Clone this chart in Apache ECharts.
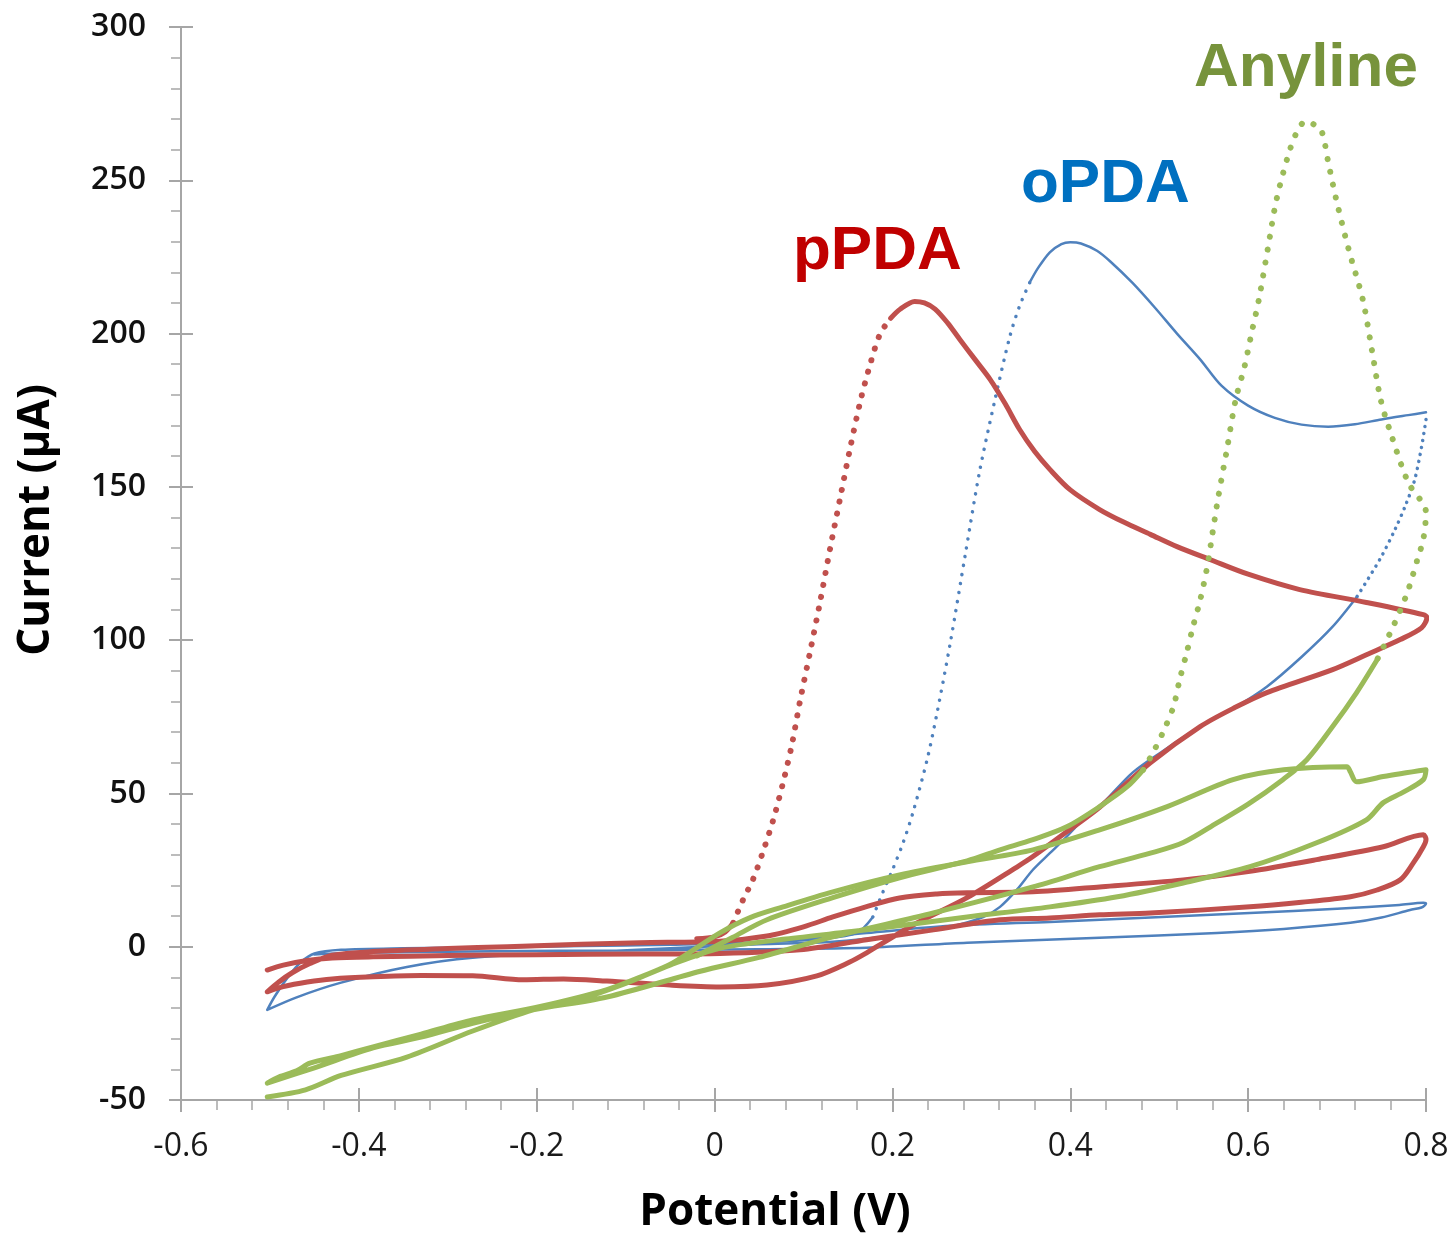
<!DOCTYPE html>
<html>
<head>
<meta charset="utf-8">
<script src="https://cdn.jsdelivr.net/npm/echarts@6/dist/echarts.min.js"></script>
<style>
  html, body { margin: 0; padding: 0; background: #fff; }
  #chart { width: 1455px; height: 1235px; }
</style>
</head>
<body>
<div id="chart"></div>
<script>
  // axis ticks
  const potentialTicks = { min: -0.6, max: 0.8, step: 0.2 }
  const currentTicks = { min: -50, max: 300, step: 50 }

  // pPDA, [potential V, current uA]
  const pPDA_start = [[-0.02, 2.6], [0, 3.2], [0.012, 4.8], [0.021, 7.8]]
  const pPDA_rise = [[0.021, 7.8], [0.032, 15.3], [0.043, 21.8], [0.054, 30.6], [0.066, 41.4], [0.077, 53.5],
    [0.087, 66], [0.096, 80], [0.108, 97], [0.119, 113], [0.13, 130], [0.141, 146], [0.152, 162],
    [0.164, 178], [0.175, 190], [0.186, 199.8], [0.198, 205]]
  const pPDA_rest = [[0.198, 205], [0.209, 208], [0.225, 210.5], [0.236, 210], [0.248, 208], [0.262, 203.5],
    [0.276, 198], [0.293, 191.5], [0.31, 185], [0.327, 177], [0.343, 168.7], [0.36, 161.5], [0.377, 155.7],
    [0.4, 149], [0.433, 142.6], [0.46, 138.5], [0.49, 134.5], [0.52, 130.5], [0.557, 126.3], [0.6, 121.5],
    [0.658, 116.5], [0.733, 112.3], [0.797, 108.3], [0.801, 107.4],
    [0.795, 104], [0.771, 100.2], [0.735, 95.5], [0.695, 90.4], [0.621, 82.9], [0.585, 78], [0.546, 71.8],
    [0.49, 60], [0.433, 45.5], [0.396, 37.5], [0.358, 29.4], [0.34, 26], [0.284, 16], [0.228, 7.8],
    [0.189, 1.2], [0.171, -2], [0.152, -5], [0.115, -9.5], [0.059, -12.5], [0.006, -13.1], [-0.05, -12.5],
    [-0.121, -11.2], [-0.17, -10.5], [-0.215, -10.8], [-0.272, -9.5], [-0.33, -9.4], [-0.384, -9.8],
    [-0.43, -10.5], [-0.458, -11.5], [-0.485, -13], [-0.503, -14.7],
    [-0.49, -11.5], [-0.475, -8.5], [-0.455, -5.5], [-0.43, -2.8], [-0.384, -1.6], [-0.3, -0.6],
    [-0.233, 0], [-0.15, 0.8], [-0.084, 1.3], [0.006, 1.8], [0.059, 3.5], [0.1, 6.5], [0.133, 9.7],
    [0.17, 13], [0.208, 15.9], [0.25, 17.2], [0.284, 17.6], [0.358, 17.9], [0.433, 19.5], [0.527, 21.8],
    [0.6, 24.5], [0.677, 28.4], [0.752, 32.6], [0.797, 36.5],
    [0.8, 35], [0.797, 32.6], [0.785, 27], [0.771, 21.8], [0.745, 18.5], [0.715, 16.3], [0.66, 14.5],
    [0.602, 13], [0.49, 11], [0.433, 10.4], [0.377, 9.4], [0.321, 8.8], [0.246, 5.5], [0.171, 2.3],
    [0.096, -1], [0.006, -2.2], [-0.084, -2.4], [-0.2, -2.6], [-0.3, -2.9], [-0.384, -3.3], [-0.43, -3.7],
    [-0.458, -4.5], [-0.485, -6], [-0.503, -7.6]]

  // oPDA
  const oPDA_start = [[0, 0.8], [0.06, 1.5], [0.12, 2.5], [0.16, 4.5], [0.178, 9.7]]
  const oPDA_rise = [[0.178, 9.7], [0.189, 17.6], [0.2, 25], [0.212, 33.9], [0.223, 43.7], [0.239, 61],
    [0.25, 76], [0.265, 99], [0.282, 128], [0.298, 155], [0.315, 178], [0.332, 199], [0.343, 209], [0.355, 217]]
  const oPDA_peak = [[0.355, 217], [0.364, 221.5], [0.377, 226.5], [0.39, 229.2], [0.4, 229.8], [0.412, 229.4],
    [0.43, 227], [0.445, 223.5], [0.47, 216.5], [0.495, 208.5], [0.52, 200], [0.546, 191.6], [0.57, 183],
    [0.6, 176.5], [0.63, 172.5], [0.66, 170.3], [0.69, 169.6], [0.72, 170.4], [0.75, 172], [0.78, 173.4],
    [0.8, 174.3]]
  const oPDA_drop = [[0.8, 172], [0.795, 163], [0.787, 152], [0.777, 144], [0.765, 136], [0.748, 126.3],
    [0.722, 114]]
  const oPDA_rest = [[0.722, 114], [0.695, 104.4], [0.66, 94.5], [0.621, 84.8], [0.585, 78], [0.546, 71.8],
    [0.505, 64], [0.47, 56.8], [0.433, 45.7], [0.414, 41.4], [0.396, 35.9], [0.377, 30.5], [0.358, 25.1],
    [0.34, 18.6], [0.321, 13], [0.302, 9.7], [0.265, 6.5], [0.208, 3.9], [0.133, 1.6], [0.05, 0.8],
    [-0.05, -0.5], [-0.159, -2], [-0.272, -3.6], [-0.346, -6.6], [-0.421, -11.8], [-0.47, -16.5], [-0.503, -20.6],
    [-0.495, -16.4], [-0.48, -10], [-0.465, -5], [-0.45, -2.2], [-0.42, -1], [-0.35, -0.5], [-0.25, -0.2],
    [-0.15, 0.2], [-0.05, 0.6], [0.05, 1.5], [0.171, 4.5], [0.265, 6.8], [0.377, 8.1], [0.49, 9.5],
    [0.602, 11], [0.7, 12.4], [0.77, 13.6], [0.797, 14.3],
    [0.8, 14], [0.795, 12.8], [0.782, 12], [0.75, 9.5], [0.715, 7.8], [0.64, 5.8], [0.565, 4.5], [0.433, 2.9],
    [0.284, 1.3], [0.171, -0.3], [0.05, -0.8], [-0.1, -1.2], [-0.25, -1.5], [-0.4, -2], [-0.45, -2.5]]

  // Anyline
  const anyline_start = [[-0.02, -3], [0.02, 3], [0.059, 8.8], [0.133, 16], [0.208, 22.5], [0.284, 28],
    [0.321, 31.6], [0.358, 34.9], [0.396, 39.1], [0.433, 45.7], [0.464, 52.2], [0.482, 57.7]]
  const anyline_peak = [[0.482, 57.7], [0.493, 63.3], [0.504, 69.8], [0.516, 78.3], [0.523, 87.1], [0.531, 96],
    [0.538, 104.4], [0.546, 113], [0.554, 124], [0.56, 135], [0.566, 146], [0.576, 162], [0.586, 178.5],
    [0.596, 189.3], [0.604, 200.4], [0.612, 211], [0.622, 227.5], [0.632, 243.8], [0.647, 260], [0.657, 267],
    [0.665, 269.3], [0.675, 268], [0.683, 265.7], [0.69, 256], [0.699, 243.8], [0.713, 227.5], [0.729, 211],
    [0.739, 194.9], [0.749, 178.5], [0.76, 167.8], [0.78, 151.4], [0.8, 141.6], [0.797, 133], [0.79, 126],
    [0.779, 115.5], [0.763, 104.4], [0.745, 93.6]]
  const anyline_rest = [[0.745, 93.6], [0.722, 82.9], [0.695, 71.8], [0.666, 61], [0.639, 54.5], [0.6, 46.5],
    [0.565, 40.4], [0.527, 34], [0.49, 30.5], [0.433, 26.1], [0.358, 19.5], [0.246, 11], [0.133, 3.2],
    [0.05, -3.5], [-0.016, -8], [-0.121, -16.4], [-0.204, -20.6], [-0.272, -25], [-0.33, -29.5],
    [-0.384, -33], [-0.45, -39.5], [-0.503, -44.5],
    [-0.49, -42.5], [-0.47, -40.5], [-0.455, -38], [-0.42, -35.5], [-0.384, -32.7], [-0.33, -28.5],
    [-0.272, -23.9], [-0.196, -19.5], [-0.121, -14], [-0.08, -9.5], [-0.047, -5.3], [0.006, 4.5], [0.04, 9.5],
    [0.077, 13], [0.133, 17.9], [0.208, 23.4], [0.284, 27.7], [0.358, 31.6], [0.433, 38.1], [0.509, 45.7],
    [0.583, 54.5], [0.64, 57.7], [0.711, 58.7], [0.715, 57], [0.722, 53.8], [0.752, 55.5], [0.8, 57.7],
    [0.797, 54.5], [0.775, 50.5], [0.752, 47], [0.733, 41.4], [0.677, 33.9], [0.602, 26.1], [0.527, 20.8],
    [0.453, 16.3], [0.377, 13], [0.284, 9.7], [0.171, 5.5], [0.08, 2.5], [0.006, -0.5], [-0.05, -6],
    [-0.1, -12], [-0.15, -17], [-0.204, -20.6], [-0.272, -27.5], [-0.346, -36], [-0.42, -42],
    [-0.46, -46.7], [-0.503, -49]]

  const RED = '#C0504D'
  const BLUE = '#4F81BD'
  const GREEN = '#9BBB59'
  const AXIS = '#A6A6A6'

  function trace (data, color, width, dotted, gap) {
    return {
      type: 'line',
      data: data,
      showSymbol: false,
      symbol: 'none',
      silent: true,
      animation: false,
      smooth: 0.3,
      lineStyle: {
        color: color,
        width: width,
        type: dotted ? [0.1, gap] : 'solid',
        cap: 'round',
        join: 'round'
      }
    }
  }

  function valueAxis (ticks, labels, inner) {
    let axis = {
      type: 'value',
      min: ticks.min,
      max: ticks.max,
      interval: ticks.step,
      axisLine: { show: !inner, onZero: false, lineStyle: { color: AXIS, width: 2 } },
      axisTick: { show: true, inside: inner, length: 12, lineStyle: { color: AXIS, width: 2 } },
      splitLine: { show: false },
      axisLabel: inner ? { show: false } : labels
    }
    if (!inner) {
      axis.minorTick = { show: true, splitNumber: 5, length: 10, lineStyle: { color: AXIS, width: 1.5 } }
    }
    return axis
  }

  let chart = echarts.init(document.getElementById('chart'))

  let xLabels = { fontSize: 32, fontFamily: 'Open Sans', color: '#1a1a1a', margin: 31 }
  let yLabels = { fontSize: 32, fontFamily: 'Open Sans', fontWeight: 600, color: '#111', margin: 35 }

  let xMain = valueAxis(potentialTicks, xLabels, false)
  xMain.position = 'bottom'
  let xInner = valueAxis(potentialTicks, null, true)
  xInner.position = 'bottom'
  let yMain = valueAxis(currentTicks, yLabels, false)
  yMain.position = 'left'
  let yInner = valueAxis(currentTicks, null, true)
  yInner.position = 'left'

  let option = {
    animation: false,
    backgroundColor: '#fff',
    grid: { left: 181, right: 29, top: 27, bottom: 135 },
    xAxis: [xMain, xInner],
    yAxis: [yMain, yInner],
    series: [
      trace(oPDA_start, BLUE, 2.5, false),
      trace(oPDA_rise, BLUE, 3.5, true, 9),
      trace(oPDA_peak, BLUE, 2.5, false),
      trace(oPDA_drop, BLUE, 3.5, true, 7),
      trace(oPDA_rest, BLUE, 2.5, false),
      trace(pPDA_start, RED, 5, false),
      trace(pPDA_rise, RED, 6, true, 12),
      trace(pPDA_rest, RED, 5, false),
      trace(anyline_start, GREEN, 5, false),
      trace(anyline_peak, GREEN, 6, true, 13),
      trace(anyline_rest, GREEN, 5, false)
    ],
    graphic: [
      {
        type: 'text', x: 793, y: 252, silent: true,
        style: { text: 'pPDA', fill: '#C00000', font: 'bold 62px "Liberation Sans"', textAlign: 'left', textVerticalAlign: 'middle' }
      },
      {
        type: 'text', x: 1021, y: 185, silent: true,
        style: { text: 'oPDA', fill: '#0070C0', font: 'bold 62px "Liberation Sans"', textAlign: 'left', textVerticalAlign: 'middle' }
      },
      {
        type: 'text', x: 1194, y: 69, silent: true,
        style: { text: 'Anyline', fill: '#77933C', font: 'bold 62px "Liberation Sans"', textAlign: 'left', textVerticalAlign: 'middle' }
      },
      {
        type: 'text', x: 775, y: 1212, silent: true,
        style: { text: 'Potential (V)', fill: '#000', font: 'bold 44px "Open Sans"', textAlign: 'center', textVerticalAlign: 'middle' }
      },
      {
        type: 'text', x: 36, y: 520, rotation: Math.PI / 2, silent: true,
        style: { text: 'Current (µA)', fill: '#000', font: 'bold 44px "Open Sans"', textAlign: 'center', textVerticalAlign: 'middle' }
      }
    ]
  }

  chart.setOption(option)
</script>
</body>
</html>
